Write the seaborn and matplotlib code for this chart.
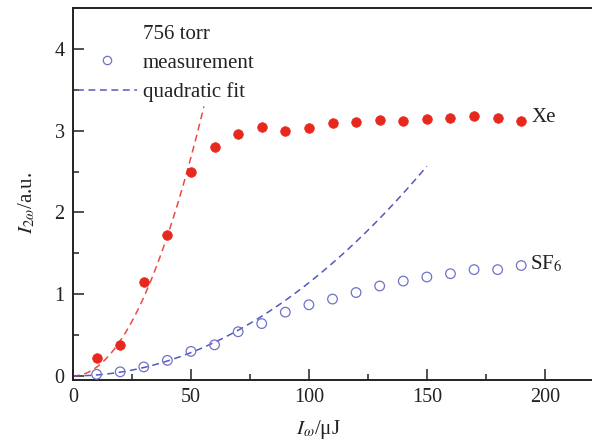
import numpy as np
import pandas as pd
import matplotlib
matplotlib.use("Agg")
import matplotlib.pyplot as plt
import seaborn as sns
from matplotlib.ticker import MultipleLocator
from matplotlib.lines import Line2D

# ---- data ----
energy = [10, 20, 30, 40, 50, 60, 70, 80, 90, 100, 110, 120, 130, 140, 150, 160, 170, 180, 190]
xe_signal = [0.22, 0.38, 1.15, 1.72, 2.50, 2.80, 2.96, 3.05, 2.99, 3.03, 3.09, 3.10, 3.13, 3.12,
             3.14, 3.16, 3.18, 3.15, 3.12]
sf6_signal = [0.02, 0.05, 0.11, 0.19, 0.30, 0.38, 0.54, 0.64, 0.78, 0.87, 0.94, 1.02, 1.10, 1.16,
              1.21, 1.25, 1.30, 1.30, 1.35]
# quadratic fit coefficients (y = a * x^2) and fit ranges
xe_fit_coef = 0.00107
xe_fit_range = [0, 55.5]
sf6_fit_coef = 0.000114
sf6_fit_range = [0, 150]
legend_labels = ['756 torr', 'measurement', 'quadratic fit']

sns.set_theme(style="ticks")
plt.rcParams['font.family'] = ['Liberation Serif', 'DejaVu Serif']
plt.rcParams['mathtext.fontset'] = 'stix'

red = '#e8281e'
red_fit = '#ec4a44'
blue = '#6f72c8'
blue_fit = '#5558bb'
ink = '#222222'

fig = plt.figure(figsize=(5.92, 4.45), dpi=100)
ax = fig.add_axes([73/592, 1-380/445, 1-73/592, (380-8)/445])

df = pd.DataFrame({'energy': energy, 'Xe': xe_signal, 'SF6': sf6_signal})

xf1 = np.linspace(xe_fit_range[0], xe_fit_range[1], 100)
xf2 = np.linspace(sf6_fit_range[0], sf6_fit_range[1], 200)
fit_df1 = pd.DataFrame({'x': xf1, 'y': xe_fit_coef * xf1**2})
fit_df2 = pd.DataFrame({'x': xf2, 'y': sf6_fit_coef * xf2**2})

sns.lineplot(data=fit_df1, x='x', y='y', ax=ax, color=red_fit, lw=1.1)
ax.lines[-1].set_linestyle((0, (4.5, 3)))
sns.lineplot(data=fit_df2, x='x', y='y', ax=ax, color=blue_fit, lw=1.1)
ax.lines[-1].set_linestyle((0, (4.5, 3)))

sns.scatterplot(data=df, x='energy', y='Xe', ax=ax, color=red, s=48, edgecolor=red,
                linewidth=0.5, zorder=3)
sns.scatterplot(data=df, x='energy', y='SF6', ax=ax, facecolor='none', edgecolor=blue,
                s=48, linewidth=0.9, zorder=3)

ax.set_xlim(0, 220)
ax.set_ylim(-0.05, 4.5)
ax.xaxis.set_major_locator(MultipleLocator(50))
ax.xaxis.set_minor_locator(MultipleLocator(25))
ax.yaxis.set_major_locator(MultipleLocator(1))
ax.yaxis.set_minor_locator(MultipleLocator(0.5))
ax.tick_params(which='both', direction='in', labelsize=14.5, width=1.1, colors=ink,
               labelcolor=ink, pad=6)
ax.tick_params(which='major', length=8)
ax.tick_params(which='minor', length=4)
for sp in ['left', 'bottom', 'top']:
    ax.spines[sp].set_linewidth(1.4)
    ax.spines[sp].set_color(ink)
ax.spines['right'].set_visible(False)

ax.set_xlabel(r'$I_{\omega}$/μJ', fontsize=15, color=ink)
ax.set_ylabel(r'$I_{2\omega}$/a.u.', fontsize=15, color=ink)
ax.xaxis.set_label_coords((318-73)/(592-73), -(418-380)/372)
ax.yaxis.set_label_coords(-(73-37)/(592-73), (380-203)/372)

ax.text(194.5, 3.16, 'Xe', fontsize=15, va='center', ha='left', color=ink)
ax.text(193.6, 1.37, r'SF$_6$', fontsize=15, va='center', ha='left', color=ink)

handles = [Line2D([], [], ls='none', marker=None),
           Line2D([], [], marker='o', ls='none', markerfacecolor='none',
                  markeredgecolor=blue, markersize=6, markeredgewidth=0.9),
           Line2D([], [], color=blue_fit, lw=1.1, ls=(0, (4.5, 3)))]
leg = ax.legend(handles, legend_labels, loc='upper left',
                bbox_to_anchor=((77-73)/519, (380-24)/372), frameon=False,
                fontsize=15, handlelength=2.88, handletextpad=0.29,
                labelspacing=0.45, borderaxespad=0.0, borderpad=0.0)
for t in leg.get_texts():
    t.set_color(ink)

fig.savefig('out.png', dpi=100)
